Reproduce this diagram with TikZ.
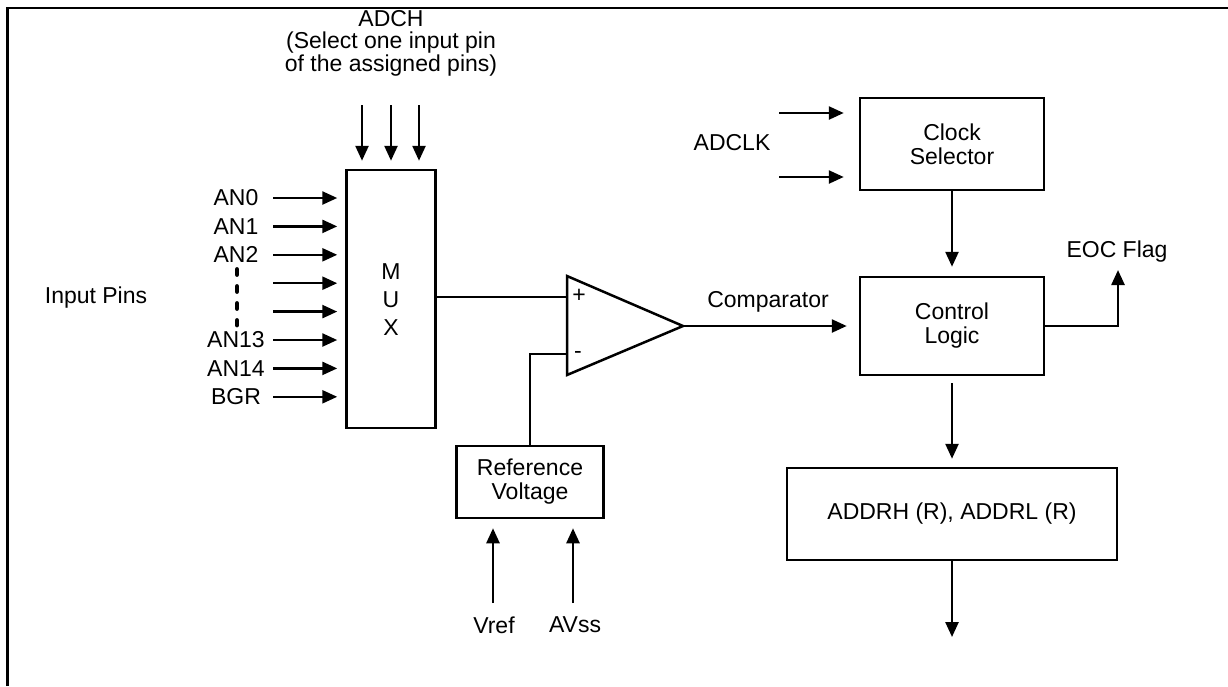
\documentclass[tikz,border=0pt]{standalone}
\usepackage{fontspec}
\setmainfont{Liberation Sans}
\usetikzlibrary{arrows.meta,calc}
\begin{document}
\begin{tikzpicture}[x=1pt,y=-1pt, line width=2.5pt,
  every node/.style={font=\fontsize{23}{24}\selectfont, inner sep=0pt},
  blk/.style={draw, line width=2.5pt, align=center},
  arr/.style={-{Triangle[length=15pt,width=13pt]}},
  lbl/.style={align=center}]
\useasboundingbox (0,0) rectangle (1228,686);
\draw[line width=2.8pt] (7.3,686) -- (7.3,8) -- (1228,8);

% MUX
\node[blk, minimum width=89pt, minimum height=258pt] (mux) at (391,299) {};
\node[lbl, font=\fontsize{23}{28}\selectfont] (muxt) at (391,300) {M\\U\\X};

% ADCH
\node[lbl, font=\fontsize{23}{22.5}\selectfont] (adch) at (391,43) {ADCH\\(Select one input pin\\of the assigned pins)};
\foreach \x/\n in {362/1,391/2,419/3}{
  \coordinate (s\n) at (\x,105);
  \draw[arr, shorten >=8pt] (s\n) -- (s\n |- mux.north);
}

% input pins
\node (inpins) at (96,298) {Input Pins};
\foreach \i/\t in {0/AN0,1/AN1,2/AN2,3/,4/,5/AN13,6/AN14,7/BGR}{
  \node (l\i) at (236,{198+28.4*\i}) {\t};
  \coordinate (a\i) at (273,{198+28.4*\i});
  \draw[arr, shorten >=8pt] (a\i) -- (a\i -| mux.west);
}
\draw[line width=4.8pt, line cap=round, dash pattern=on 5pt off 12pt] (237,269.5) -- (237,325);

% op-amp
\coordinate (oa1) at (567,276);
\coordinate (oa2) at (683,326);
\coordinate (oa3) at (567,375);
\coordinate (inp) at (567,297);
\coordinate (inm) at (567,354);
\draw (oa1) -- (oa2) -- (oa3) -- cycle;
\node (plus) at (579,296) {+};
\node (minus) at (578,355) {-};
\draw (mux.east |- inp) -- (inp);

% reference voltage
\node[blk, minimum width=147pt, minimum height=72pt] (ref) at (530,482) {Reference\\Voltage};
\draw (inm) -- (inm -| ref.north) -- (ref.north);
\coordinate (v1) at (493,603);
\coordinate (v2) at (573,603);
\draw[arr, shorten >=9pt] (v1) -- (v1 |- ref.south);
\draw[arr, shorten >=9pt] (v2) -- (v2 |- ref.south);
\node (vref) at (494,625) {Vref};
\node (avss) at (575,625) {AVss};

% right side blocks
\node[blk, minimum width=184pt, minimum height=92pt] (clk) at (952,144) {Clock\\Selector};
\node[blk, minimum width=184pt, minimum height=98pt] (ctrl) at (952,326) {Control\\Logic};
\node[blk, minimum width=330pt, minimum height=92pt] (addr) at (952,514) {ADDRH (R), ADDRL (R)};

\draw[arr, shorten >=12pt] (oa2) -- (oa2 -| ctrl.west);
\node (cmp) at (768,302) {Comparator};

\node (adclk) at (732,143) {ADCLK};
\coordinate (k1) at (779,113);
\coordinate (k2) at (779,177);
\draw[arr, shorten >=15pt] (k1) -- (k1 -| clk.west);
\draw[arr, shorten >=15pt] (k2) -- (k2 -| clk.west);

\draw[arr, shorten >=9pt] (clk.south) -- (ctrl.north);
\draw[arr, shorten <=7pt, shorten >=8pt] (ctrl.south) -- (addr.north);
\coordinate (aout) at (952,637);
\draw[arr] (addr.south) -- (aout);

\coordinate (eoc) at (1118,270);
\draw[arr] (ctrl.east) -- (ctrl.east -| eoc) -- (eoc);
\node (eocl) at (1117,252) {EOC Flag};
\end{tikzpicture}
\end{document}
